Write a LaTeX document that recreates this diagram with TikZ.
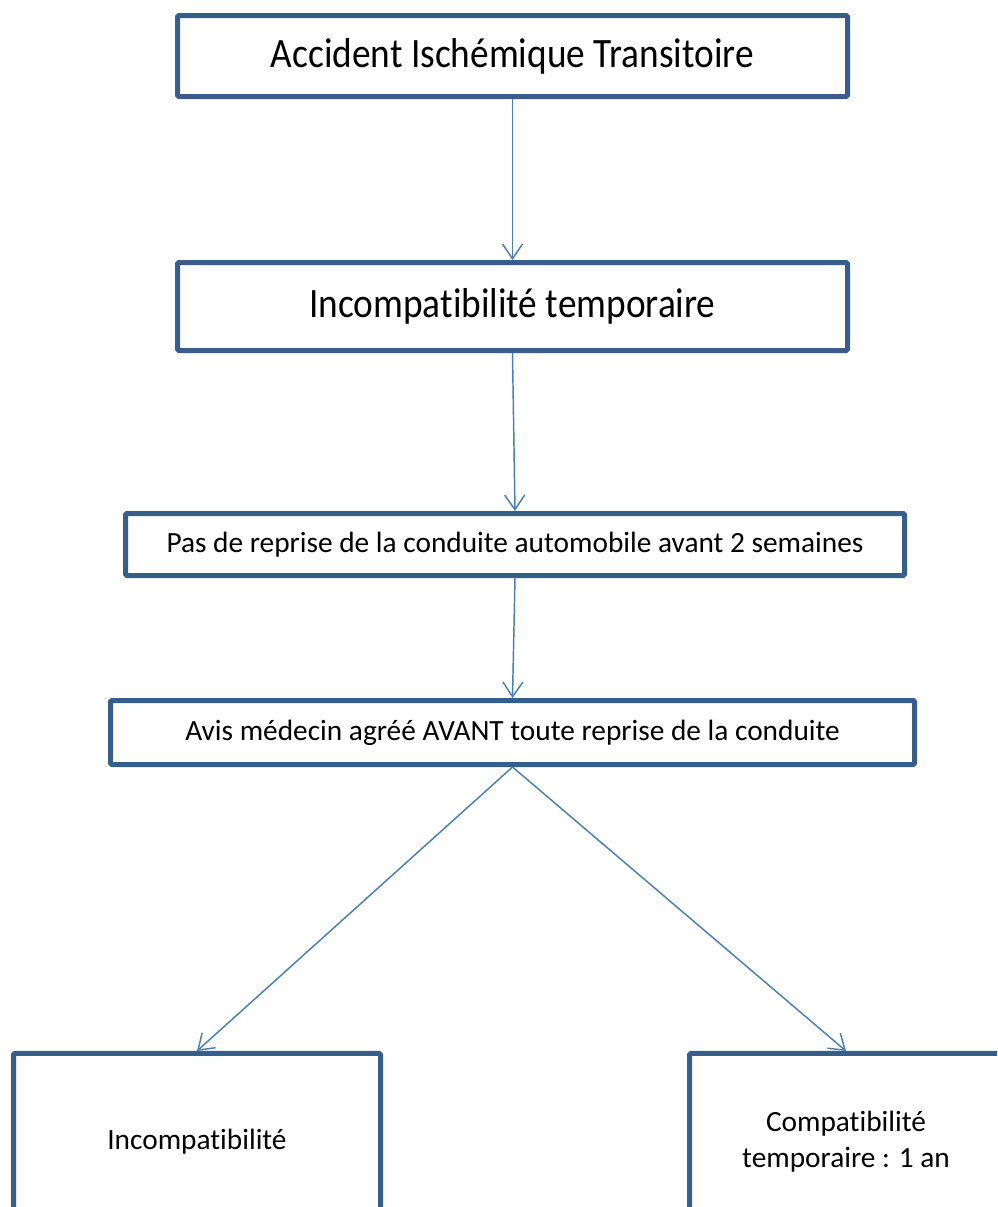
\documentclass[tikz,border=0pt]{standalone}
\usepackage{graphicx}
\usepackage{fontspec}
\setmainfont{Carlito}[Ligatures={NoCommon,NoContextual,NoRequired}]
\usetikzlibrary{arrows.meta}

\definecolor{boxline}{HTML}{385D8A}
\definecolor{arrowline}{HTML}{4A7EBB}

\newcommand{\etire}[1]{\scalebox{1}[1.12]{#1}}

\begin{document}
\begin{tikzpicture}[x=0.75pt, y=-0.75pt,
    etape/.style={draw=boxline, line width=3.75pt, rounded corners=1pt, inner sep=0pt, align=center,
      font=\fontsize{22}{26.5}\selectfont},
    grande/.style={etape, font=\fontsize{28}{33}\selectfont},
    fleche/.style={draw=arrowline, line width=1.1pt, -{Straight Barb[length=11pt, width=15pt]}}]
    \useasboundingbox (0, 0) rectangle (997, 1207);
    \clip (0, 0) rectangle (997, 1207);

    % les etapes
    \node[grande, minimum width=502.5pt, minimum height=60.75pt] (ait) at (512.5, 56) {\etire{Accident Ischémique Transitoire}};
    \node[grande, minimum width=502.5pt, minimum height=66pt] (incomptemp) at (512.5, 306.5) {\etire{Incompatibilité temporaire}};
    \node[etape, minimum width=584.25pt, minimum height=46.5pt] (pasreprise) at (515, 544.5) {Pas de reprise de la conduite automobile avant 2 semaines};
    \node[etape, minimum width=603pt, minimum height=48pt] (avis) at (512.5, 732.5) {Avis médecin agréé AVANT toute reprise de la conduite};
    \node[etape, minimum width=275.25pt, minimum height=132.4pt] (incomp) at (197, 1141.75) {Incompatibilité};
    \node[etape, minimum width=234.75pt, minimum height=132.4pt] (comp) at (846, 1141.75) {Compatibilité\\temporaire : 1 an};

    % les fleches
    \draw[fleche] (ait) -- (incomptemp);
    \draw[fleche] (incomptemp.south) -- (pasreprise.north);
    \draw[fleche] (pasreprise.south) -- (avis.north);
    \draw[fleche] (avis.south) -- (incomp.north);
    \draw[fleche] (avis.south) -- (comp.north);

\end{tikzpicture}
\end{document}
